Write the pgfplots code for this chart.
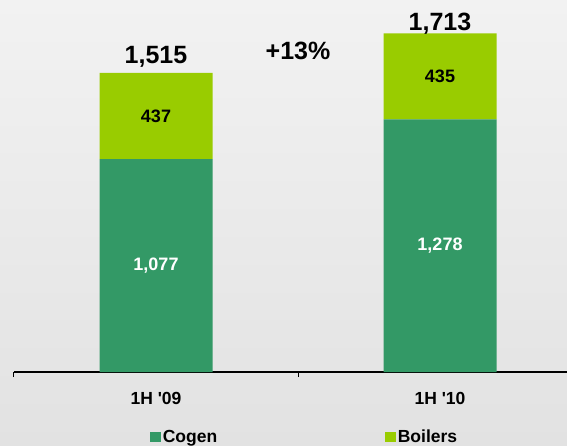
\documentclass[border=0pt]{standalone}
\usepackage{fontspec}
\setmainfont{Liberation Sans}
\usepackage{pgfplots}
\usepackage{pgfplotstable}
\pgfplotsset{compat=1.18}

\definecolor{cogen}{HTML}{339966}
\definecolor{boilers}{HTML}{99CC00}
\definecolor{bgtop}{HTML}{F2F2F2}
\definecolor{bgbot}{HTML}{E2E2E2}

% totals over the stacks, dy = fine vertical offset of the label
\pgfplotstableread{
x  total dy
0  1515  2
1  1713  -4
}\totals

\pgfplotsset{
    frame/.style={
        at={(0,0)}, anchor=south west,
        scale only axis,
        width=568pt, height=355.7pt,
        xmin=-0.5, xmax=1.5,
        ymin=0, ymax=1800,
        bar width=113pt,
        clip=false,
        /pgf/number format/assume math mode=true,
        /pgf/number format/fixed,
        /pgf/number format/precision=0,
    },
    % stacked segments already put the label mid-segment with anchor=center
    mid label/.style={
        nodes near coords, point meta=rawy,
        every node near coord/.append style={#1, anchor=center,
            font=\bfseries\fontsize{18}{20}\selectfont},
    },
}

\begin{document}
\begin{tikzpicture}
\shade[top color=bgtop, bottom color=bgbot] (-14pt,-73pt) rectangle (553pt,372pt);
\begin{axis}[
    frame,
    ybar stacked,
    axis x line*=bottom,
    axis y line=none,
    axis line style={-, black, line width=1.3pt},
    xtick={0,1},
    xticklabels={1H \textquotesingle09, 1H \textquotesingle10},
    major tick length=0pt,
    minor xtick={-0.5,0.5,1.5},
    minor tick length=5pt,
    tick align=outside,
    minor tick style={black, line width=1pt},
    xticklabel style={font=\bfseries\fontsize{17.5}{20}\selectfont, yshift=-17pt},
    legend columns=2,
    legend image code/.code={\fill[#1] (0pt,-5.3pt) rectangle (10.6pt,5.3pt);},
    legend style={draw=none, fill=none, inner sep=0pt,
        at={(axis description cs:0.2394,-0.183)}, anchor=west,
        font=\bfseries\fontsize{17.5}{20}\selectfont,
        /tikz/every even column/.append style={column sep=166pt}},
]
\addplot[fill=cogen, draw=none, mid label=white]
    coordinates {(0,1077) (1,1278)};
\addplot[fill=boilers, draw=none, mid label=black]
    coordinates {(0,437) (1,435)};
\legend{Cogen, Boilers}
\node[font=\bfseries\fontsize{25}{28}\selectfont] at (axis cs:0.5,1624) {+13\%};
\end{axis}
\begin{axis}[frame, ybar, bar shift=0pt, hide axis]
\addplot[draw=none, fill=none,
    nodes near coords, point meta=y,
    visualization depends on={\thisrow{dy} \as \dy},
    every node near coord/.append style={black, anchor=south,
        font=\bfseries\fontsize{25}{28}\selectfont, yshift=\dy pt}]
    table[x=x, y=total] {\totals};
\end{axis}
\pgfresetboundingbox
\path[use as bounding box] (-14pt,-73pt) rectangle (553pt,372pt);
\end{tikzpicture}
\end{document}
